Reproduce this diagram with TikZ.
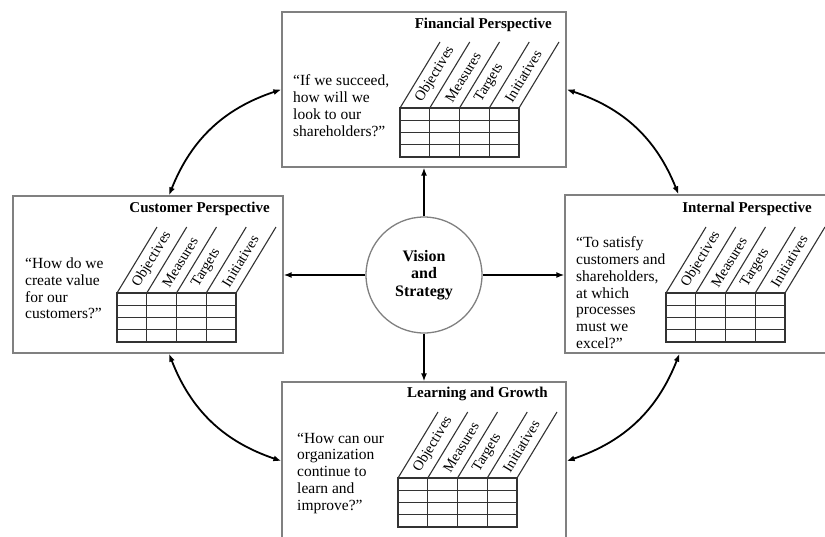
\documentclass[tikz,border=0pt]{standalone}
\usepackage{fontspec}
\setmainfont{Liberation Serif}
\usetikzlibrary{arrows.meta}

% grid of the scorecard: #1,#2 top left corner, #3 name prefix
\newcommand{\bscgrid}[3]{%
    \draw[gridline] (#1,#2) rectangle ++(119,49);
    \foreach \k in {1,2,3} {
        \draw[gridline] ({#1+\k*29.75},#2) -- ++(0,49);
        \draw[gridline] (#1,{#2+\k*12.25}) -- ++(119,0);
    }
    \foreach \k in {0,...,4}
        \draw[gridline] ({#1+\k*29.75},#2) -- ++(40,-66);
    \foreach \lab [count=\k from 0] in {Objectives,Measures,Targets,Initiatives}
        \node[bsclabel] (#3-\k) at ({#1+(\k+0.5)*29.75+4},{#2-7}) {\lab};
}

\begin{document}
\begin{tikzpicture}[
        x=1pt, y=-1pt,
        persp/.style={draw=black!50, line width=1.3pt, inner sep=0pt},
        vis/.style={draw=black!50, line width=1.3pt, circle, minimum size=116pt, inner sep=0pt,
            align=center, font=\fontsize{16}{17.5}\selectfont\bfseries},
        ptitle/.style={anchor=east, inner sep=0pt, font=\fontsize{15}{18}\selectfont\bfseries},
        qtext/.style={anchor=north west, inner sep=0pt, align=left,
            font=\fontsize{15.5}{16.8}\selectfont},
        gridline/.style={draw=black!80, line width=1.1pt},
        bsclabel/.style={anchor=west, rotate=58.8, inner sep=0pt, font=\fontsize{14.5}{16}\selectfont},
        flow/.style={draw, line width=2.2pt, -{Latex[length=8pt,width=6pt]}},
        cyc/.style={draw, line width=1.8pt, {Latex[length=8pt,width=6pt]}-{Latex[length=8pt,width=6pt]}},
    ]
    \useasboundingbox (0,0) rectangle (825,536);

    % perspectives
    \node[persp, minimum width=284pt, minimum height=155pt] (fin) at (424,89.5) {};
    \node[persp, minimum width=270pt, minimum height=157pt] (cus) at (148,274.5) {};
    \node[persp, minimum width=261pt, minimum height=158pt] (int) at (695.5,274) {};
    \node[persp, minimum width=284pt, minimum height=158pt] (lrn) at (424,461) {};

    \node[vis] (vis) at (424,275) {Vision\\and\\Strategy};

    % titles
    \node[ptitle] (fint) at (552,25) {Financial Perspective};
    \node[ptitle] (cust) at (270,209) {Customer Perspective};
    \node[ptitle] (intt) at (812,209) {Internal Perspective};
    \node[ptitle] (lrnt) at (548,394) {Learning and Growth};

    % questions
    \node[qtext] (finq) at (293,74.5) {“If we succeed,\\how will we\\look to our\\shareholders?”};
    \node[qtext] (cusq) at (25,257.5) {“How do we\\create value\\for our\\customers?”};
    \node[qtext] (intq) at (576,236.5) {“To satisfy\\customers and\\shareholders,\\at which\\processes\\must we\\excel?”};
    \node[qtext] (lrnq) at (297,432.5) {“How can our\\organization\\continue to\\learn and\\improve?”};

    % scorecards
    \bscgrid{400}{108}{fing}
    \bscgrid{117}{293}{cusg}
    \bscgrid{666}{293}{intg}
    \bscgrid{398}{478}{lrng}

    % arrows
    \draw[flow] (vis.north) -- (fin.south);
    \draw[flow] (vis.south) -- (lrn.north);
    \draw[flow] (vis.west) -- (vis.west -| cus.east);
    \draw[flow] (vis.east) -- (vis.east -| int.west);

    \draw[cyc] ([xshift=21pt]cus.north) to[bend left=25] (fin.west);
    \draw[cyc] (fin.east) to[bend left=25] ([xshift=-17pt]int.north);
    \draw[cyc] ([xshift=-16pt]int.south) to[bend left=25] (lrn.east);
    \draw[cyc] (lrn.west) to[bend left=25] ([xshift=21pt]cus.south);
\end{tikzpicture}
\end{document}
